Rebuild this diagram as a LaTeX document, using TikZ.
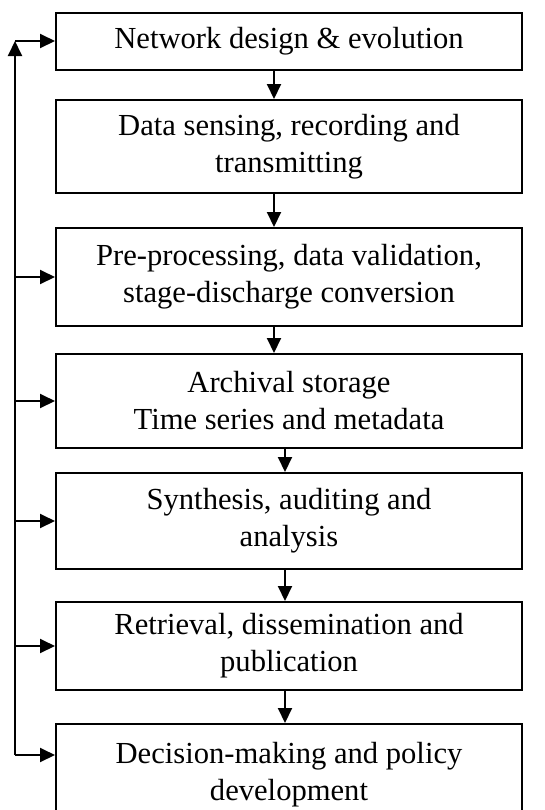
\documentclass[tikz,border=0pt]{standalone}
\usepackage{fontspec}
\setmainfont{Liberation Serif}
\usetikzlibrary{calc,positioning,arrows,arrows.meta}

\begin{document}
\begin{tikzpicture}[x=0.5pt, y=-0.5pt, line width=1pt,
                    >={Triangle[length=7.5pt,width=7pt]}]
\tikzstyle{every node}=[rectangle, draw, fill=white, align=center,
                        minimum width=233pt, inner sep=0pt,
                        font=\fontsize{15.3}{18.5}\selectfont]
\useasboundingbox (0,0) rectangle (545,810);
\clip (0,0) rectangle (545,810);
\node[minimum height=28.5pt] (N) at (289,41.5) {Network design \& evolution};
\node[minimum height=46.5pt] (S) at (289,146.5) {Data sensing, recording and\\ transmitting};
\node[minimum height=49pt] (P) at (289,277) {Pre-processing, data validation,\\ stage-discharge conversion};
\node[minimum height=47pt] (A) at (289,401) {Archival storage\\ Time series and metadata};
\node[minimum height=48pt] (Y) at (289,521) {Synthesis, auditing and\\ analysis};
\node[minimum height=44pt] (R) at (289,646) {Retrieval, dissemination and\\ publication};
\node[minimum height=51pt] (G) at (289,775) {Decision-making and policy\\ development};
% feedback line
\coordinate (T) at (15,41);
\coordinate (D) at (15,755);
\draw[->] (D) -- (T);
\draw[->] (T) -- (T -| N.west);
\draw[->] (D) -- (D -| G.west);
\foreach \n in {P,A,Y,R}
  \draw[->] (\n.west -| T) -- (\n.west);
% main flow
\draw[->] ([xshift=-7.5pt]N.south) -- ([xshift=-7.5pt]S.north);
\draw[->] ([xshift=-7.5pt]S.south) -- ([xshift=-7.5pt]P.north);
\draw[->] ([xshift=-7.5pt]P.south) -- ([xshift=-7.5pt]A.north);
\draw[->] ([xshift=-2pt]A.south) -- ([xshift=-2pt]Y.north);
\draw[->] ([xshift=-2pt]Y.south) -- ([xshift=-2pt]R.north);
\draw[->] ([xshift=-2pt]R.south) -- ([xshift=-2pt]G.north);
\end{tikzpicture}
\end{document}
